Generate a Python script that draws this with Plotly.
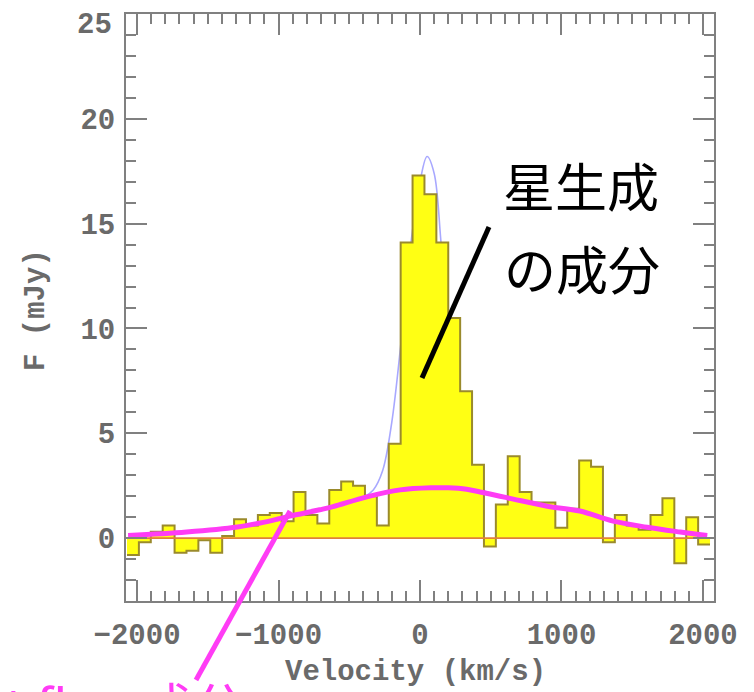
import numpy as np
import plotly.graph_objects as go

# ---- data ----
CHANNEL_START = -2071.0   # km/s, left edge of first channel
CHANNEL_WIDTH = 84.1      # km/s
flux = [-0.8, -0.2, 0.3, 0.6, -0.7, -0.6, -0.1, -0.7, 0.1, 0.9,
        0.6, 1.1, 1.2, 0.8, 2.2, 1.1, 0.7, 2.3, 2.7, 2.5,
        2.0, 0.6, 4.5, 14.1, 17.3, 16.4, 14.1, 10.5, 7.0, 3.5,
        -0.4, 1.6, 3.9, 2.2, 1.7, 1.7, 0.5, 1.4, 3.7, 3.4,
        -0.2, 1.1, 0.6, 0.4, 1.1, 1.9, -1.2, 1.0, -0.3]

broad_v = [-2063, -1650, -1290, -1130, -1010, -920, -710, -615, -375, -140,
           90, 200, 330, 425, 565, 660, 900, 1130, 1365, 1605, 1840, 2030]
broad_f = [0.12, 0.29, 0.53, 0.72, 0.9, 1.05, 1.35, 1.5, 1.97, 2.3,
           2.4, 2.4, 2.33, 2.2, 2.0, 1.86, 1.52, 1.29, 0.81, 0.52, 0.29, 0.12]

total_v = [-2063, -1650, -1290, -1010, -710, -500, -400, -330, -265, -200,
           -130, -60, 0, 50, 100, 150, 220, 290, 360, 430,
           565, 660, 900, 1130, 1365, 1605, 1840, 2030]
total_f = [0.12, 0.29, 0.53, 0.9, 1.35, 1.75, 1.95, 2.3, 3.2, 5.5,
           9.6, 14.3, 17.0, 18.2, 17.4, 14.0, 8.8, 4.8, 3.0, 2.35,
           2.0, 1.86, 1.52, 1.29, 0.81, 0.52, 0.29, 0.12]

x_ticks = [-2000, -1000, 0, 1000, 2000]
y_ticks = [0, 5, 10, 15, 20, 25]

# ---- build figure ----
edges = CHANNEL_START + CHANNEL_WIDTH * np.arange(len(flux) + 1)
step_x = list(edges)
step_y = list(flux) + [flux[-1]]

W, H = 754, 692
OFF = 8  # default page body margin
# target plot area in window pixels: x 126..714, y 14..601
L_T, R_T, T_T, B_T = 126, 714, 14, 601
ML, MT = L_T - OFF, T_T - OFF
MR = W - (R_T - OFF)
MB = H - (B_T - OFF)
PW, PH = R_T - L_T, B_T - T_T

def px(xp):
    return (xp - L_T) / PW

def py(yp):
    return (B_T - yp) / PH

fig = go.Figure()

fig.add_trace(go.Scatter(x=total_v, y=total_f, mode="lines",
                         line=dict(color="#a8a8ff", width=1.6, shape="spline"),
                         hoverinfo="skip", showlegend=False))
fig.add_trace(go.Scatter(x=step_x, y=step_y, mode="lines",
                         line=dict(color="#9a8a2c", width=2, shape="hv"),
                         fill="tozeroy", fillcolor="#ffff14",
                         hoverinfo="skip", showlegend=False))
fig.add_trace(go.Scatter(x=[edges[0], edges[-1] + 40], y=[0, 0], mode="lines",
                         line=dict(color="#e0803a", width=1.6),
                         hoverinfo="skip", showlegend=False))
fig.add_trace(go.Scatter(x=broad_v, y=broad_f, mode="lines",
                         line=dict(color="#ff3cf5", width=5, shape="spline"),
                         hoverinfo="skip", showlegend=False))

label_font = dict(family="Liberation Mono", size=29, color="#6a6a6a", weight="bold")
axis_common = dict(showline=True, linecolor="#808080", linewidth=2,
                   mirror="ticks", ticks="inside", ticklen=21, tickwidth=1.5,
                   tickcolor="#808080", showgrid=False, zeroline=False,
                   tickfont=label_font, automargin=False,
                   ticklabeloverflow="allow")

fig.update_xaxes(range=[-2078, 2078], tickvals=x_ticks, ticklabelstandoff=6,
                 minor=dict(dtick=100, ticks="inside", ticklen=10,
                            tickcolor="#808080", tickwidth=1.5),
                 **axis_common)
# top label sits slightly lower in the reference; drawn separately below
y_text = [str(v) for v in y_ticks[:-1]] + [""]
fig.update_yaxes(range=[-3, 25], tickvals=y_ticks, ticktext=y_text,
                 ticklabelstandoff=3,
                 minor=dict(dtick=1, ticks="inside", ticklen=10,
                            tickcolor="#808080", tickwidth=1.5),
                 **axis_common)
fig.add_annotation(text=str(y_ticks[-1]), xref="paper", yref="paper",
                   x=px(114), y=py(25), xanchor="right", yanchor="middle",
                   showarrow=False, font=label_font)

# pointer lines
fig.add_shape(type="line", xref="paper", yref="paper",
              x0=px(489), y0=py(227), x1=px(422), y1=py(378),
              line=dict(color="black", width=5))
fig.add_shape(type="line", xref="paper", yref="paper",
              x0=px(290), y0=py(511), x1=px(196), y1=py(680),
              line=dict(color="#ff3cf5", width=5))

cjk = "Noto Sans CJK JP"
fig.add_annotation(text="星生成", xref="paper", yref="paper",
                   x=px(581), y=py(184), xanchor="center", yanchor="middle",
                   showarrow=False,
                   font=dict(family=cjk, size=52, color="black"))
fig.add_annotation(text="の成分", xref="paper", yref="paper",
                   x=px(582), y=py(267), xanchor="center", yanchor="middle",
                   showarrow=False,
                   font=dict(family=cjk, size=52, color="black"))
fig.add_annotation(text="out flow成分", xref="paper", yref="paper",
                   x=px(247), y=py(704), xanchor="right", yanchor="middle",
                   showarrow=False,
                   font=dict(family=cjk, size=52, color="#ff3cf5"))

# axis titles
fig.add_annotation(text="F (mJy)", xref="paper", yref="paper",
                   x=px(37), y=py(310), xanchor="center", yanchor="middle",
                   showarrow=False, textangle=-90, font=label_font)
fig.add_annotation(text="Velocity (km/s)", xref="paper", yref="paper",
                   x=px(415), y=py(672), xanchor="center", yanchor="middle",
                   showarrow=False, font=label_font)

fig.update_layout(width=W, height=H,
                  margin=dict(l=ML, r=MR, t=MT, b=MB, autoexpand=False),
                  paper_bgcolor="white", plot_bgcolor="white",
                  showlegend=False)

fig.write_html("out.html")
